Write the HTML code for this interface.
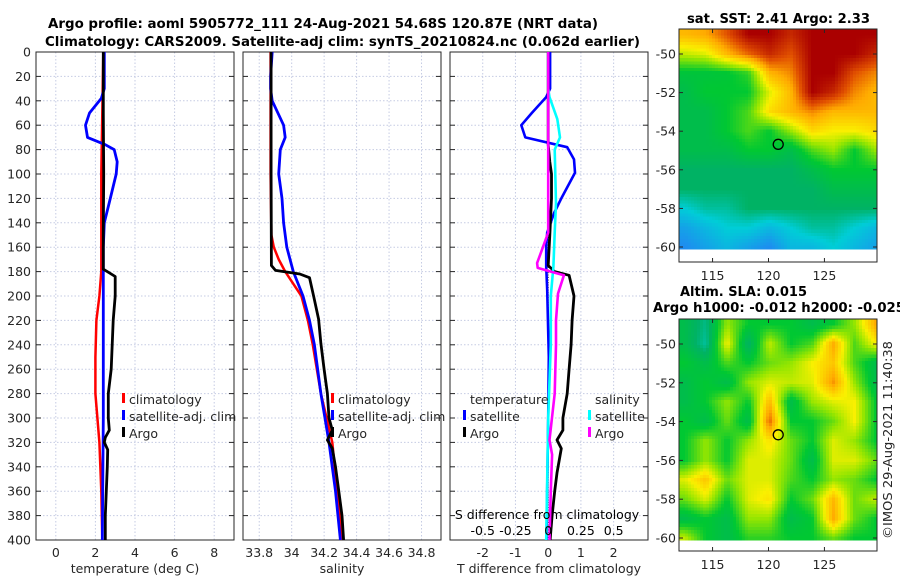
<!DOCTYPE html>
<html><head><meta charset="utf-8">
<style>
html,body{margin:0;padding:0;background:#fff;}
svg{display:block;font-family:"DejaVu Sans","Liberation Sans",sans-serif;}
</style></head>
<body>
<svg id="fig" width="900" height="580" viewBox="0 0 900 580" xmlns="http://www.w3.org/2000/svg"></svg>
<script>
// ---------------- data ----------------
const depthTicks = [0,20,40,60,80,100,120,140,160,180,200,220,240,260,280,300,320,340,360,380,400];
const tempTicks = [0,2,4,6,8];
const salTicks = [33.8,34,34.2,34.4,34.6,34.8];
const salTickLabels = ["33.8","34","34.2","34.4","34.6","34.8"];
const tdiffTicks = [-2,-1,0,1,2];
const sdiffTicks = [-0.5,-0.25,0,0.25,0.5];
const sdiffTickLabels = ["-0.5","-0.25","0","0.25","0.5"];

const tempClimDepth = [0,50,100,150,180,200,220,250,280,320,360,400];
const tempClim = [2.4,2.35,2.3,2.3,2.3,2.2,2.05,2.0,2.0,2.2,2.3,2.35];
const tempSatDepth = [0,30,38,50,60,70,76,80,90,100,120,140,160,200,300,400];
const tempSat = [2.45,2.45,2.3,1.7,1.5,1.6,2.5,2.95,3.1,3.05,2.75,2.45,2.4,2.4,2.4,2.35];
const tempArgoDepth = [0,50,100,150,178,181,184,200,220,240,260,280,300,310,316,320,326,340,360,380,400];
const tempArgo = [2.4,2.4,2.42,2.4,2.4,2.7,3.0,3.0,2.9,2.85,2.8,2.65,2.65,2.7,2.5,2.45,2.62,2.6,2.55,2.5,2.5];

const salClimDepth = [0,100,150,160,170,180,190,200,220,240,280,320,360,400];
const salClim = [33.87,33.87,33.875,33.89,33.92,33.96,34.01,34.06,34.1,34.13,34.18,34.25,34.28,34.31];
const salSatDepth = [0,20,30,40,60,70,80,100,120,140,160,180,200,220,240,280,320,360,400];
const salSat = [33.88,33.87,33.87,33.88,33.95,33.96,33.93,33.92,33.94,33.95,33.97,34.01,34.07,34.11,34.14,34.18,34.23,34.27,34.3];
const salArgoDepth = [0,100,175,179,182,185,200,219,239,260,280,300,310,318,325,340,360,380,400];
const salArgo = [33.873,33.873,33.875,33.9,34.05,34.11,34.135,34.166,34.18,34.2,34.22,34.23,34.25,34.22,34.25,34.27,34.29,34.31,34.32];

const tDiffSatDepth = [0,30,37,50,60,70,78,88,99,119,132,148,160,176,195,250,300,400];
const tDiffSat = [0.06,0.06,-0.06,-0.5,-0.82,-0.7,0.58,0.79,0.82,0.42,0.18,-0.03,-0.06,-0.06,-0.03,0.02,0.0,-0.05];
const tDiffArgoDepth = [0,76,90,100,120,150,175,180,183,200,220,240,260,280,300,310,318,325,345,360,380,400];
const tDiffArgo = [0,0,0.05,0.1,0.1,0.05,0,0.2,0.64,0.79,0.73,0.7,0.64,0.58,0.45,0.45,0.27,0.4,0.27,0.2,0.12,0.06];
const sDiffSatDepth = [0,30,37,55,70,80,124,148,176,200,240,300,400];
const sDiffSat = [0,0,0.01,0.07,0.09,0.05,0.06,0.05,0.04,0.02,0.02,0,-0.015];
const sDiffArgoDepth = [0,148,160,173,177,180,183,198,220,240,280,318,330,360,400];
const sDiffArgo = [0,0,-0.04,-0.085,-0.08,0.02,0.12,0.075,0.06,0.06,0.05,0.01,0.03,0.02,0.01];

const latTicks = [-50,-52,-54,-56,-58,-60];
const lonTicks = [115,120,125];
const gridLats = [-49,-50,-51,-52,-53,-54,-55,-56,-57,-58,-59,-60];
const gridLons = [112.5,114.4,116.3,118.2,120.1,122,123.9,125.8,127.7,129.6];
const sstGrid = [
[.8,.82,.9,1,1,.95,1,1,1,1],
[.68,.7,.8,.88,.95,.9,1,1,1,.95],
[.53,.53,.54,.58,.8,.85,1,1,.9,.85],
[.5,.55,.55,.55,.7,.8,1,.95,.85,.8],
[.5,.5,.55,.6,.75,.8,.85,.8,.8,.8],
[.5,.5,.55,.6,.55,.65,.75,.72,.72,.75],
[.5,.5,.5,.55,.55,.5,.6,.65,.55,.65],
[.45,.45,.45,.45,.45,.45,.5,.55,.55,.55],
[.45,.45,.45,.45,.45,.45,.45,.5,.5,.5],
[.35,.4,.4,.45,.45,.45,.45,.45,.45,.45],
[.25,.3,.35,.35,.3,.35,.4,.4,.35,.3],
[.2,.25,.3,.25,.2,.3,.3,.35,.3,.25]];
const slaGrid = [
[.5,.42,.65,.55,.55,.55,.5,.55,.65,.82],
[.5,.4,.72,.45,.68,.55,.6,.82,.6,.72],
[.55,.5,.6,.55,.62,.65,.72,.78,.6,.5],
[.5,.55,.5,.65,.7,.68,.7,.84,.65,.5],
[.5,.55,.65,.55,.8,.5,.65,.7,.72,.55],
[.55,.5,.62,.5,.88,.55,.55,.62,.72,.55],
[.55,.65,.55,.65,.74,.62,.55,.7,.65,.55],
[.55,.65,.55,.7,.7,.62,.5,.7,.7,.62],
[.7,.78,.62,.7,.7,.6,.55,.65,.62,.55],
[.62,.7,.55,.7,.74,.55,.62,.8,.62,.68],
[.5,.55,.5,.65,.65,.5,.55,.82,.62,.55],
[.68,.55,.5,.58,.58,.55,.55,.62,.55,.55]];
const argoLon = 120.87, argoLat = -54.68;

// ---------------- helpers ----------------
const NS = "http://www.w3.org/2000/svg";
const svg = document.getElementById('fig');
function mk(tag, attrs, parent){
  const e = document.createElementNS(NS, tag);
  for (const k in attrs) e.setAttribute(k, attrs[k]);
  (parent||svg).appendChild(e);
  return e;
}
function txt(str, attrs, parent){ const e = mk('text', attrs, parent); e.textContent = str; return e; }

const Y0 = 52, Y1 = 540;
const yD = d => Y0 + (d/400)*(Y1-Y0);
const panels = [
  {x0:36, x1:234, lo:-1, hi:9, name:'temperature-panel'},
  {x0:243, x1:441, lo:33.7, hi:34.92, name:'salinity-panel'},
  {x0:450, x1:648, lo:-3, hi:3.05, name:'difference-panel'}
];
const sx = (p,v) => p.x0 + (v-p.lo)/(p.hi-p.lo)*(p.x1-p.x0);
const sxS = v => sx(panels[2], v*4);

const gridCol = '#c5cbe3';
const axCol = '#262626';

function drawPanelFrame(p, ticks, labels){
  const g = mk('g', {});
  
  
  ticks.forEach(t => {
    const x = sx(p,t);
    const l = mk('line', {x1:x, x2:x, y1:Y0, y2:Y1, stroke:gridCol, 'stroke-width':1, 'stroke-dasharray':'1.5,2'}, g);
    
    
  });
  depthTicks.forEach(d => {
    const y = yD(d);
    const l = mk('line', {x1:p.x0, x2:p.x1, y1:y, y2:y, stroke:gridCol, 'stroke-width':1, 'stroke-dasharray':'1.5,2'}, g);
    
    
    mk('line', {x1:p.x0, x2:p.x0+5, y1:y, y2:y, stroke:axCol, 'stroke-width':1}, g);
    mk('line', {x1:p.x1-5, x2:p.x1, y1:y, y2:y, stroke:axCol, 'stroke-width':1}, g);
  });
  const fr = mk('rect', {x:p.x0, y:Y0, width:p.x1-p.x0, height:Y1-Y0, fill:'none', stroke:axCol, 'stroke-width':1}, g);
  
  
  if (labels){
    ticks.forEach((t,i) => {
      const tl = txt(labels[i], {x:sx(p,t), y:557, 'text-anchor':'middle', 'font-size':12.5, fill:axCol}, g);
      
      
    });
  }
  return g;
}

function profile(g, p, depths, vals, color, w, conv){
  const pts = depths.map((d,i) => (conv?conv(vals[i]):sx(p,vals[i])).toFixed(1)+','+yD(d).toFixed(1)).join(' ');
  return mk('polyline', {points:pts, fill:'none', stroke:color, 'stroke-width':w, 'stroke-linejoin':'round'}, g);
}

function legendEntry(g, x, y, color, label){
  const e = mk('g', {}, g);
  
  
  mk('rect', {x:x, y:y-8, width:3, height:10, fill:color}, e);
  txt(label, {x:x+7, y:y+3, 'font-size':12.5, fill:axCol}, e);
}

// ---------------- titles ----------------
let t = txt('Argo profile: aoml 5905772_111 24-Aug-2021 54.68S 120.87E (NRT data)', {x:48, y:28, 'font-size':13, 'font-weight':'bold', textLength:550, lengthAdjust:'spacingAndGlyphs', fill:'#000'});


t = txt('Climatology: CARS2009. Satellite-adj clim: synTS_20210824.nc (0.062d earlier)', {x:45, y:46, 'font-size':13, 'font-weight':'bold', textLength:595, lengthAdjust:'spacingAndGlyphs', fill:'#000'});



// ---------------- panel 1 ----------------
const g1 = drawPanelFrame(panels[0], tempTicks, tempTicks.map(String));
depthTicks.forEach(d => {
  const yl = txt(String(d), {x:31, y:yD(d)+4.5, 'text-anchor':'end', 'font-size':12.5, fill:axCol});
  
  
});
let s = profile(g1, panels[0], tempClimDepth, tempClim, '#ff0000', 2.5);


s = profile(g1, panels[0], tempSatDepth, tempSat, '#0000ff', 2.8);


s = profile(g1, panels[0], tempArgoDepth, tempArgo, '#000000', 2.8);


legendEntry(g1, 122, 401, '#ff0000', 'climatology');
legendEntry(g1, 122, 418, '#0000ff', 'satellite-adj. clim');
legendEntry(g1, 122, 435, '#000000', 'Argo');
t = txt('temperature (deg C)', {x:135, y:573, 'text-anchor':'middle', 'font-size':12.5, fill:axCol});



// ---------------- panel 2 ----------------
const g2 = drawPanelFrame(panels[1], salTicks, salTickLabels);
s = profile(g2, panels[1], salClimDepth, salClim, '#ff0000', 2.5);


s = profile(g2, panels[1], salSatDepth, salSat, '#0000ff', 2.8);


s = profile(g2, panels[1], salArgoDepth, salArgo, '#000000', 2.8);


legendEntry(g2, 331, 401, '#ff0000', 'climatology');
legendEntry(g2, 331, 418, '#0000ff', 'satellite-adj. clim');
legendEntry(g2, 331, 435, '#000000', 'Argo');
t = txt('salinity', {x:342, y:573, 'text-anchor':'middle', 'font-size':12.5, fill:axCol});



// ---------------- panel 3 ----------------
const g3 = drawPanelFrame(panels[2], tdiffTicks, tdiffTicks.map(String));
const z = mk('line', {x1:sx(panels[2],0), x2:sx(panels[2],0), y1:Y0, y2:Y1, stroke:'#333', 'stroke-width':1, 'stroke-dasharray':'1,1.5'}, g3);


s = profile(g3, panels[2], tDiffSatDepth, tDiffSat, '#0000ff', 2.6);


s = profile(g3, panels[2], tDiffArgoDepth, tDiffArgo, '#000000', 2.8);


s = profile(g3, panels[2], sDiffSatDepth, sDiffSat, '#00ffff', 2.6, sxS);


s = profile(g3, panels[2], sDiffArgoDepth, sDiffArgo, '#ff00ff', 2.6, sxS);


t = txt('temperature', {x:470, y:404, 'font-size':12.5, fill:axCol}, g3);


legendEntry(g3, 463, 418, '#0000ff', 'satellite');
legendEntry(g3, 463, 435, '#000000', 'Argo');
t = txt('salinity', {x:595, y:404, 'font-size':12.5, fill:axCol}, g3);


legendEntry(g3, 588, 418, '#00ffff', 'satellite');
legendEntry(g3, 588, 435, '#ff00ff', 'Argo');
t = txt('S difference from climatology', {x:547, y:519, 'text-anchor':'middle', 'font-size':12.5, fill:'#000'}, g3);


sdiffTicks.forEach((v,i) => {
  const l = txt(sdiffTickLabels[i], {x:sxS(v), y:535, 'text-anchor':'middle', 'font-size':12.5, fill:'#000'}, g3);
  
  
});
t = txt('T difference from climatology', {x:549, y:573, 'text-anchor':'middle', 'font-size':12.5, fill:axCol});



// ---------------- maps ----------------
const cStops = [[0,[0,50,190]],[0.2,[30,140,240]],[0.35,[0,205,215]],[0.45,[0,178,100]],[0.55,[0,200,50]],[0.65,[150,230,0]],[0.72,[250,240,0]],[0.82,[255,170,0]],[0.9,[225,80,0]],[1,[170,0,0]]];
function cmap(v){
  v = Math.max(0, Math.min(1, v));
  for (let i=1;i<cStops.length;i++){
    if (v <= cStops[i][0]){
      const a = cStops[i-1], b = cStops[i], f = (v-a[0])/(b[0]-a[0]);
      return 'rgb(' + a[1].map((c,k)=>Math.round(c+(b[1][k]-c)*f)).join(',') + ')';
    }
  }
  return 'rgb(170,0,0)';
}
function sampleGrid(grid, lat, lon){
  let fr = (gridLats[0]-lat); fr = Math.max(0, Math.min(gridLats.length-1, fr));
  let fc = (lon-gridLons[0])/(gridLons[1]-gridLons[0]); fc = Math.max(0, Math.min(gridLons.length-1, fc));
  const r0 = Math.floor(fr), c0 = Math.floor(fc);
  const r1 = Math.min(r0+1, gridLats.length-1), c1 = Math.min(c0+1, gridLons.length-1);
  const a = fr-r0, b = fc-c0;
  return grid[r0][c0]*(1-a)*(1-b) + grid[r0][c1]*(1-a)*b + grid[r1][c0]*a*(1-b) + grid[r1][c1]*a*b;
}
function drawMap(name, grid, yTop, yBot, yLat50, pxPerLat, dataBotLat){
  const g = mk('g', {});
  
  
  const X0 = 679, X1 = 877, lonLo = 112, lonHi = 129.7;
  const xL = lon => X0 + (lon-lonLo)/(lonHi-lonLo)*(X1-X0);
  const yL = lat => yLat50 + (-50-lat)*pxPerLat;
  const latTop = -50 + (yLat50-yTop)/pxPerLat;
  const nx = 66, ny = Math.round((latTop-dataBotLat)*6);
  const dx = (X1-X0)/nx, dlat = (latTop-dataBotLat)/ny;
  const cells = mk('g', {'shape-rendering':'crispEdges'}, g);
  
  
  for (let j=0;j<ny;j++){
    const lat = latTop - (j+0.5)*dlat;
    for (let i=0;i<nx;i++){
      const lon = lonLo + (i+0.5)*(lonHi-lonLo)/nx;
      const yA = yL(latTop - j*dlat), yB = yL(latTop-(j+1)*dlat);
      mk('rect', {x:(X0+i*dx).toFixed(2), y:yA.toFixed(2), width:(dx+0.4).toFixed(2), height:(yB-yA+0.4).toFixed(2), fill:cmap(sampleGrid(grid, lat, lon))}, cells);
    }
  }
  const fr = mk('rect', {x:X0, y:yTop, width:X1-X0, height:yBot-yTop, fill:'none', stroke:axCol, 'stroke-width':1}, g);
  
  
  latTicks.forEach(lat => {
    const y = yL(lat);
    mk('line', {x1:X0, x2:X0+4, y1:y, y2:y, stroke:axCol}, g);
    mk('line', {x1:X1-4, x2:X1, y1:y, y2:y, stroke:axCol}, g);
    const l = txt(String(lat), {x:X0-3, y:y+4.5, 'text-anchor':'end', 'font-size':12.5, fill:axCol}, g);
    
    
  });
  lonTicks.forEach(lon => {
    const x = xL(lon);
    mk('line', {x1:x, x2:x, y1:yBot, y2:yBot-4, stroke:axCol}, g);
    mk('line', {x1:x, x2:x, y1:yTop, y2:yTop+4, stroke:axCol}, g);
    const l = txt(String(lon), {x:x, y:yBot+18, 'text-anchor':'middle', 'font-size':12.5, fill:axCol}, g);
    
    
  });
  const c = mk('circle', {cx:xL(argoLon), cy:yL(argoLat), r:5, fill:'none', stroke:'#000', 'stroke-width':1.3}, g);
  
  
  return g;
}
drawMap('sst-map', sstGrid, 29, 262, 54, 19.3, -60.1);
drawMap('sla-map', slaGrid, 319, 551, 344, 19.4, -60.1);

t = txt('sat. SST: 2.41 Argo: 2.33', {x:687, y:23, 'font-size':13, 'font-weight':'bold', textLength:183, lengthAdjust:'spacingAndGlyphs', fill:'#000'});


t = txt('Altim. SLA: 0.015', {x:680, y:296, 'font-size':13, 'font-weight':'bold', textLength:127, lengthAdjust:'spacingAndGlyphs', fill:'#000'});


t = txt('Argo h1000: -0.012 h2000: -0.025', {x:653, y:312, 'font-size':13, 'font-weight':'bold', textLength:252, lengthAdjust:'spacingAndGlyphs', fill:'#000'});


t = txt('©IMOS 29-Aug-2021 11:40:38', {x:0, y:0, 'font-size':12.5, fill:axCol, textLength:198, lengthAdjust:'spacingAndGlyphs', transform:'translate(892,539) rotate(-90)'});


</script>
</body></html>
